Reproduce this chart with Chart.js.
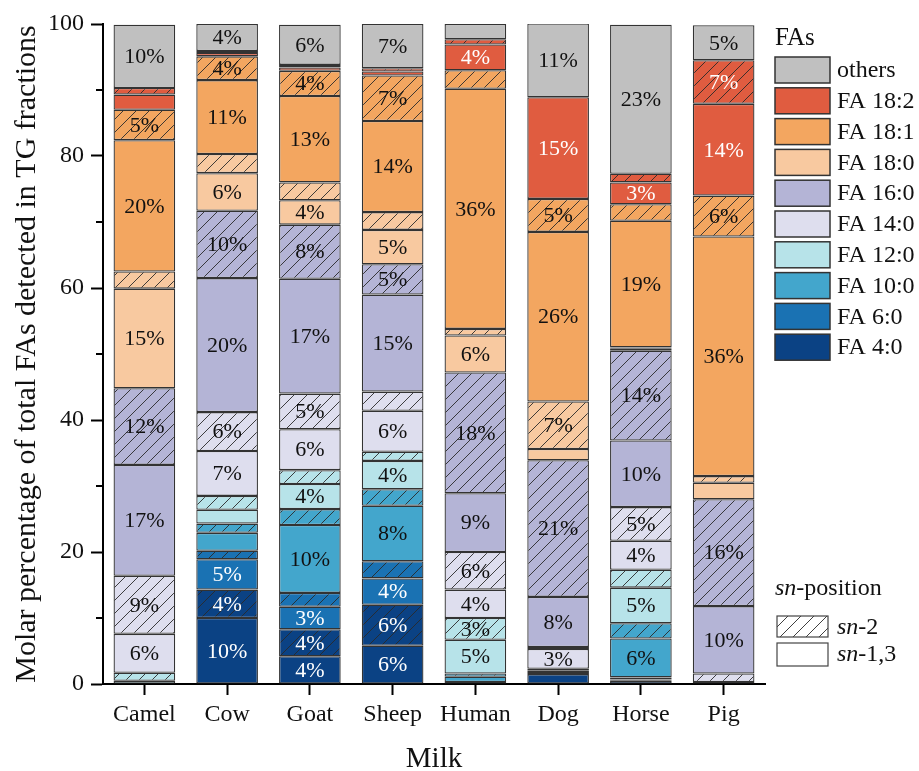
<!DOCTYPE html>
<html>
<head>
<meta charset="utf-8">
<script src="https://cdn.jsdelivr.net/npm/chart.js@4.4.1/dist/chart.umd.min.js"></script>
<style>
  html, body { margin: 0; padding: 0; background: #fff; }
  #wrap { width: 919px; height: 771px; position: relative; }
</style>
</head>
<body>
<div id="wrap"><canvas id="milkChart" width="919" height="771"></canvas></div>
<script>
// milks on the x axis
const milks = ['Camel', 'Cow', 'Goat', 'Sheep', 'Human', 'Dog', 'Horse', 'Pig'];

// molar % per fatty acid, split by sn-position (sn-1,3 plain, sn-2 hatched)
const fa4_sn13   = [0, 10.0, 4.2, 5.8, 0, 1.5, 0.5, 0];
const fa4_sn2    = [0, 4.3, 4.1, 6.2, 0, 0.3, 0.2, 0];
const fa6_sn13   = [0, 4.6, 3.4, 4.0, 0.3, 0.3, 0.3, 0];
const fa6_sn2    = [0, 1.3, 2.1, 2.6, 0, 0, 0, 0];
const fa10_sn13  = [0, 2.7, 10.3, 8.4, 0.8, 0, 5.9, 0];
const fa10_sn2   = [0, 1.4, 2.4, 2.5, 0.5, 0, 2.3, 0];
const fa12_sn13  = [0.5, 2.1, 3.8, 4.3, 5.1, 0.2, 5.4, 0];
const fa12_sn2   = [1.2, 2.1, 2.1, 1.4, 3.3, 0, 2.7, 0];
const fa14_sn13  = [5.9, 6.8, 6.2, 6.2, 4.3, 3.0, 4.4, 0.3];
const fa14_sn2   = [8.8, 5.9, 5.4, 2.9, 5.7, 0.3, 5.1, 1.3];
const fa16_sn13  = [16.8, 20.3, 17.4, 14.7, 8.9, 7.6, 10.1, 10.2];
const fa16_sn2   = [11.6, 10.2, 8.2, 4.6, 18.3, 20.7, 13.6, 16.2];
const fa180_sn13 = [15.1, 5.7, 3.7, 5.2, 5.6, 1.7, 0.3, 2.5];
const fa180_sn2  = [2.6, 2.9, 2.7, 2.7, 1.0, 7.2, 0.2, 1.0];
const fa181_sn13 = [19.9, 11.2, 13.1, 13.8, 36.4, 25.7, 19.2, 36.3];
const fa181_sn2  = [4.6, 3.6, 3.8, 6.9, 2.8, 5.0, 2.5, 6.2];
const fa182_sn13 = [2.3, 0.5, 0.5, 0.6, 3.9, 15.4, 3.3, 13.9];
const fa182_sn2  = [1.0, 0.3, 0.4, 0.5, 0.8, 0, 1.3, 6.6];
const others     = [9.6, 4.1, 6.1, 6.7, 2.3, 11.2, 22.6, 5.3];

const yMajorTicks = [0, 20, 40, 60, 80, 100];
const yMinorTicks = [10, 30, 50, 70, 90];

// legend entries, top to bottom
const faNames = ['others', 'FA 18:2', 'FA 18:1', 'FA 18:0', 'FA 16:0', 'FA 14:0', 'FA 12:0', 'FA 10:0', 'FA 6:0', 'FA 4:0'];
const faColors = {
  'others': '#C0C0C0',
  'FA 18:2': '#E05C40',
  'FA 18:1': '#F3A660',
  'FA 18:0': '#F8C9A0',
  'FA 16:0': '#B4B4D6',
  'FA 14:0': '#DEDEEE',
  'FA 12:0': '#B7E3E9',
  'FA 10:0': '#43A6CC',
  'FA 6:0': '#1A72B3',
  'FA 4:0': '#0B4284'
};
const whiteText = ['FA 18:2', 'FA 6:0', 'FA 4:0'];

const SERIF = '"Liberation Serif", "Times New Roman", serif';

function hatch(color) {
  const s = 13;
  const c = document.createElement('canvas');
  c.width = s; c.height = s;
  const g = c.getContext('2d');
  g.fillStyle = color;
  g.fillRect(0, 0, s, s);
  g.strokeStyle = '#2a2a2a';
  g.lineWidth = 0.9;
  g.beginPath();
  g.moveTo(0, s); g.lineTo(s, 0);
  g.moveTo(-2, 2); g.lineTo(2, -2);
  g.moveTo(s - 2, s + 2); g.lineTo(s + 2, s - 2);
  g.stroke();
  return g.createPattern(c, 'repeat');
}

// stacking order bottom -> top
const stack = [
  ['FA 4:0', fa4_sn13, false], ['FA 4:0', fa4_sn2, true],
  ['FA 6:0', fa6_sn13, false], ['FA 6:0', fa6_sn2, true],
  ['FA 10:0', fa10_sn13, false], ['FA 10:0', fa10_sn2, true],
  ['FA 12:0', fa12_sn13, false], ['FA 12:0', fa12_sn2, true],
  ['FA 14:0', fa14_sn13, false], ['FA 14:0', fa14_sn2, true],
  ['FA 16:0', fa16_sn13, false], ['FA 16:0', fa16_sn2, true],
  ['FA 18:0', fa180_sn13, false], ['FA 18:0', fa180_sn2, true],
  ['FA 18:1', fa181_sn13, false], ['FA 18:1', fa181_sn2, true],
  ['FA 18:2', fa182_sn13, false], ['FA 18:2', fa182_sn2, true],
  ['others', others, false]
];

const datasets = stack.map(([fa, values, sn2]) => ({
  label: fa + (sn2 ? ' sn-2' : ' sn-1,3'),
  fa: fa,
  data: values,
  backgroundColor: sn2 ? hatch(faColors[fa]) : faColors[fa],
  borderColor: '#333333',
  borderWidth: (ctx) => (ctx.raw > 0 ? 1.3 : 0),
  borderSkipped: false,
  barPercentage: 0.745,
  categoryPercentage: 1.0
}));

const segmentLabels = {
  id: 'segmentLabels',
  afterDatasetsDraw(chart) {
    const ctx = chart.ctx;
    ctx.save();
    ctx.font = '22px ' + SERIF;
    ctx.textAlign = 'center';
    ctx.textBaseline = 'middle';
    chart.data.datasets.forEach((ds, i) => {
      chart.getDatasetMeta(i).data.forEach((bar, j) => {
        const v = ds.data[j];
        if (v < 3) return;
        ctx.fillStyle = whiteText.includes(ds.fa) ? '#ffffff' : '#111111';
        ctx.fillText(Math.round(v) + '%', bar.x, (bar.y + bar.base) / 2 + 1);
      });
    });
    ctx.restore();
  }
};

const minorTicks = {
  id: 'minorTicks',
  afterDraw(chart) {
    const y = chart.scales.y;
    const ctx = chart.ctx;
    ctx.save();
    ctx.strokeStyle = '#000';
    ctx.lineWidth = 2;
    yMinorTicks.forEach(v => {
      const py = y.getPixelForValue(v);
      ctx.beginPath();
      ctx.moveTo(chart.chartArea.left - 7, py);
      ctx.lineTo(chart.chartArea.left, py);
      ctx.stroke();
    });
    ctx.restore();
  }
};

function drawSn(ctx, x, y, rest) {
  ctx.font = 'italic 24px ' + SERIF;
  ctx.fillText('sn', x, y);
  const w = ctx.measureText('sn').width;
  ctx.font = '24px ' + SERIF;
  ctx.fillText(rest, x + w, y);
}

const sideLegend = {
  id: 'sideLegend',
  afterDraw(chart) {
    const ctx = chart.ctx;
    ctx.save();
    ctx.fillStyle = '#111';
    ctx.textBaseline = 'middle';
    ctx.textAlign = 'left';
    ctx.font = '25px ' + SERIF;
    ctx.fillText('FAs', 775, 38);
    faNames.forEach((name, k) => {
      const top = 57 + k * 30.8;
      ctx.fillStyle = faColors[name];
      ctx.fillRect(775, top, 55, 26);
      ctx.strokeStyle = '#333';
      ctx.lineWidth = 1.5;
      ctx.strokeRect(775, top, 55, 26);
      ctx.fillStyle = '#111';
      ctx.font = '24px ' + SERIF;
      ctx.fillText(name, 837, top + 14);
    });

    ctx.fillStyle = '#111';
    drawSn(ctx, 775, 589, '-position');
    ctx.fillStyle = hatch('#ffffff');
    ctx.fillRect(777, 616, 51, 21);
    ctx.strokeStyle = '#444';
    ctx.lineWidth = 1.2;
    ctx.strokeRect(777, 616, 51, 21);
    ctx.fillStyle = '#fff';
    ctx.fillRect(777, 643, 51, 23);
    ctx.strokeRect(777, 643, 51, 23);
    ctx.fillStyle = '#111';
    drawSn(ctx, 837, 628, '-2');
    drawSn(ctx, 837, 655, '-1,3');
    ctx.restore();
  }
};

new Chart(document.getElementById('milkChart'), {
  type: 'bar',
  data: { labels: milks, datasets: datasets },
  options: {
    responsive: false,
    animation: false,
    layout: { padding: { left: 0, right: 154, top: 24, bottom: 0 } },
    plugins: {
      legend: { display: false },
      tooltip: { enabled: false }
    },
    scales: {
      x: {
        stacked: true,
        offset: true,
        grid: { display: true, drawOnChartArea: false, offset: false, drawTicks: true, tickLength: 11, tickColor: '#000', tickWidth: 2 },
        border: { display: true, color: '#000', width: 2 },
        ticks: { color: '#111', font: { family: SERIF, size: 24 }, padding: 5 },
        title: { display: true, text: 'Milk', color: '#111', font: { family: SERIF, size: 29, lineHeight: 0.8 }, padding: { top: 0, bottom: 0 } },
        afterFit(scale) { scale.height = 87; }
      },
      y: {
        stacked: true,
        min: 0,
        max: 100,
        afterBuildTicks(scale) { scale.ticks = yMajorTicks.map(v => ({ value: v })); },
        grid: { display: true, drawOnChartArea: false, drawTicks: true, tickLength: 12, tickColor: '#000', tickWidth: 2 },
        border: { display: true, color: '#000', width: 2 },
        ticks: { color: '#111', font: { family: SERIF, size: 24 }, padding: 7 },
        title: { display: true, text: 'Molar percentage of total FAs detected in TG fractions', color: '#111', font: { family: SERIF, size: 30, lineHeight: 1 }, padding: { top: 12, bottom: 0 } },
        afterFit(scale) { scale.width = 103; }
      }
    }
  },
  plugins: [segmentLabels, minorTicks, sideLegend]
});
</script>
</body>
</html>
